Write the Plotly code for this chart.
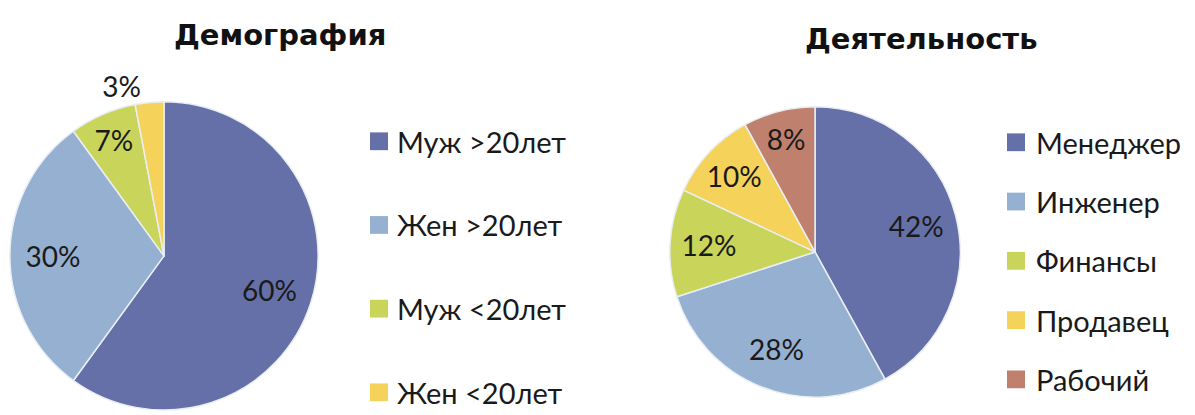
import plotly.graph_objects as go

W, H = 1195, 415
FONT = "Lato"
TITLE_FONT = "DejaVu Sans"

demo_title = "Демография"
demo_labels = ["Муж >20лет", "Жен >20лет", "Муж <20лет", "Жен <20лет"]
demo_values = [60, 30, 7, 3]
demo_colors = ["#6570A8", "#96B0D2", "#C8D45A", "#F5D25A"]
demo_textpos = ["inside", "inside", "inside", "outside"]

act_title = "Деятельность"
act_labels = ["Менеджер", "Инженер", "Финансы", "Продавец", "Рабочий"]
act_values = [42, 28, 12, 10, 8]
act_colors = ["#6570A8", "#96B0D2", "#C8D45A", "#F5D25A", "#C0806E"]
act_textpos = ["inside"] * 5


def fx(v):
    return v / W


def fy(v):
    return min(1.0, max(0.0, 1 - v / H))


fig = go.Figure()


def add_pie(labels, values, colors, textpos, x0, x1, ytop, ybot):
    dom = dict(x=[fx(x0), fx(x1)], y=[fy(ybot), fy(ytop)])
    # filled pie with borders
    fig.add_trace(go.Pie(
        labels=labels, values=values, sort=False, direction="clockwise", rotation=0,
        marker=dict(colors=colors, line=dict(color="#E9EEF4", width=1.5)),
        textinfo="none", domain=dom, showlegend=False, hoverinfo="label+percent",
    ))
    # transparent ring on top carrying the percentage labels
    fig.add_trace(go.Pie(
        labels=labels, values=values, sort=False, direction="clockwise", rotation=0, hole=0.44,
        marker=dict(colors=["rgba(0,0,0,0)"] * len(values), line=dict(width=0)),
        texttemplate="%{percent:.0%}", textposition=textpos,
        insidetextorientation="horizontal",
        textfont=dict(size=28, color="#1A1A1A", family=FONT),
        domain=dom, showlegend=False, hoverinfo="skip",
    ))


add_pie(demo_labels, demo_values, demo_colors, demo_textpos, 8, 320, 103, 415)
add_pie(act_labels, act_values, act_colors, act_textpos, 668, 962, 108, 402)

annotations = []
shapes = []


def add_title(text, xc, yc, size):
    annotations.append(dict(text=f"<b>{text}</b>", x=fx(xc), y=fy(yc), xref="paper", yref="paper",
                            xanchor="center", yanchor="middle", showarrow=False,
                            font=dict(size=size, color="#111111", family=TITLE_FONT)))


def add_legend(labels, colors, sq_x, text_x, y_first, step, sq=18, size=29):
    for i, (lab, col) in enumerate(zip(labels, colors)):
        yc = y_first + i * step
        shapes.append(dict(type="rect", xref="paper", yref="paper",
                           x0=fx(sq_x), x1=fx(sq_x + sq), y0=fy(yc + sq / 2), y1=fy(yc - sq / 2),
                           fillcolor=col, line=dict(width=0)))
        annotations.append(dict(text=lab, x=fx(text_x), y=fy(yc), xref="paper", yref="paper",
                                xanchor="left", yanchor="middle", showarrow=False,
                                font=dict(size=size, color="#1A1A1A", family=FONT)))


add_title(demo_title, 280, 35, 29)
add_title(act_title, 921, 39, 29)
add_legend(demo_labels, demo_colors, 370, 395, 143, 84.7)
add_legend(act_labels, act_colors, 1007, 1034, 144, 60)

fig.update_layout(
    width=W, height=H, margin=dict(l=0, r=0, t=0, b=0),
    paper_bgcolor="white", plot_bgcolor="white",
    annotations=annotations, shapes=shapes,
    uniformtext=dict(minsize=28, mode="show"),
    font=dict(family=FONT),
)

fig.write_html("out.html", config={"displayModeBar": False},
               post_script="document.body.style.margin='0';")
